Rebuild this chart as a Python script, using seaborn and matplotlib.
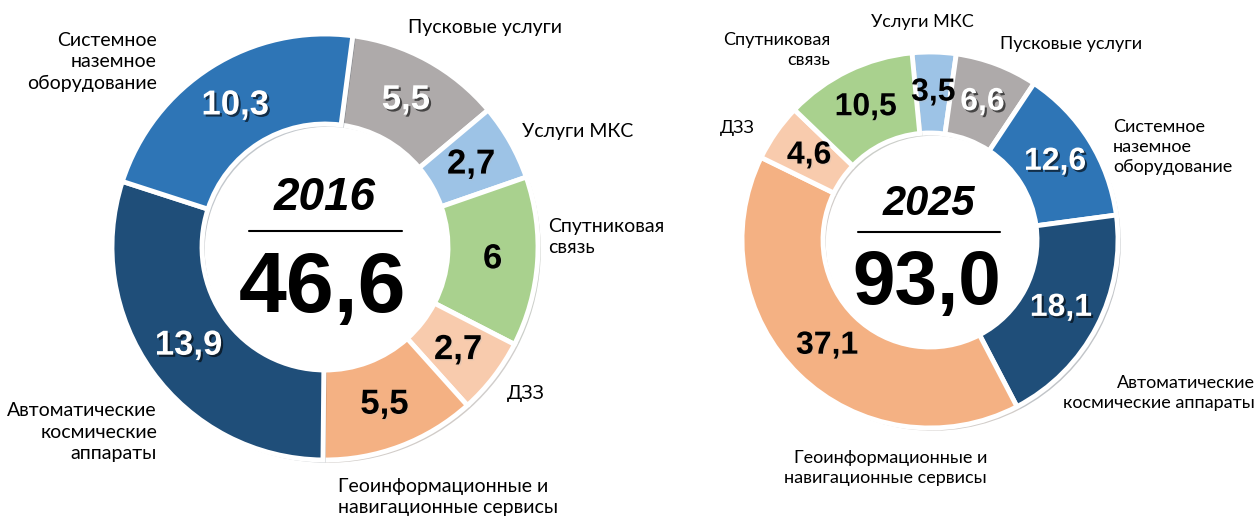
import matplotlib
matplotlib.use("Agg")
import numpy as np
import matplotlib.pyplot as plt
import matplotlib.patheffects as pe
import seaborn as sns

sns.set_theme(style="white")
plt.rcParams['font.family'] = ['Lato', 'DejaVu Sans']
plt.rcParams['text.color'] = 'black'

# categories, clockwise order as drawn in each ring
cats_2016 = ['Пусковые услуги', 'Услуги МКС', 'Спутниковая связь', 'ДЗЗ',
             'Геоинформационные и навигационные сервисы',
             'Автоматические космические аппараты',
             'Системное наземное оборудование']
vals_2016 = [5.5, 2.7, 6, 2.7, 5.5, 13.9, 10.3]
text_2016 = ['5,5', '2,7', '6', '2,7', '5,5', '13,9', '10,3']

cats_2025 = ['Услуги МКС', 'Пусковые услуги', 'Системное наземное оборудование',
             'Автоматические космические аппараты',
             'Геоинформационные и навигационные сервисы', 'ДЗЗ', 'Спутниковая связь']
vals_2025 = [3.5, 6.6, 12.6, 18.1, 37.1, 4.6, 10.5]
text_2025 = ['3,5', '6,6', '12,6', '18,1', '37,1', '4,6', '10,5']

totals = ['46,6', '93,0']
years = ['2016', '2025']

palette = {
    'Системное наземное оборудование': '#2E75B6',
    'Автоматические космические аппараты': '#1F4E79',
    'Геоинформационные и навигационные сервисы': '#F4B183',
    'ДЗЗ': '#F8CBAD',
    'Спутниковая связь': '#A9D18E',
    'Услуги МКС': '#9DC3E6',
    'Пусковые услуги': '#AEAAAA',
}
white_text = {'Системное наземное оборудование', 'Автоматические космические аппараты',
              'Пусковые услуги'}

W, H = 1258, 520
fig = plt.figure(figsize=(W / 100, H / 100), dpi=100)
ax = fig.add_axes([0, 0, 1, 1])


def Y(y):
    # image row -> axes y (y up)
    return H - y


def donut(cats, vals, texts, cx, cy, R, width, start, fs_val):
    colors = [palette[c] for c in cats]
    wedges, _ = ax.pie(vals, colors=colors, startangle=start, counterclock=False,
                       radius=R, center=(cx, Y(cy)),
                       wedgeprops=dict(width=width, edgecolor='white', linewidth=3.5))
    for w in wedges:
        w.set_path_effects([pe.SimplePatchShadow(offset=(2, -2), alpha=0.25), pe.Normal()])
    rmid = R - width / 2
    for w, c, t in zip(wedges, cats, texts):
        th = np.deg2rad((w.theta1 + w.theta2) / 2)
        x = cx + rmid * np.cos(th)
        y = Y(cy) + rmid * np.sin(th)
        if c in white_text:
            col, eff = 'white', [pe.withSimplePatchShadow(offset=(1.5, -1.5), shadow_rgbFace='black', alpha=0.6)]
        else:
            col, eff = 'black', [pe.withSimplePatchShadow(offset=(1, -1), shadow_rgbFace='#bbbbbb', alpha=0.25)]
        ax.text(x, y, t, ha='center', va='center', color=col, fontsize=fs_val,
                fontweight='bold', family='Liberation Sans', path_effects=eff)


donut(cats_2016, vals_2016, text_2016, 325, 247, 213, 90, 82.5, 25)
donut(cats_2025, vals_2025, text_2025, 930, 240, 188, 81, 95.5, 23)

# centre texts
ax.text(325, Y(198), years[0], ha='center', va='center', fontsize=33, fontweight='bold',
        fontstyle='italic', family='Liberation Sans', color='black')
ax.plot([249, 402], [Y(231), Y(231)], color='black', lw=1.5)
ax.text(323, Y(290), totals[0], ha='center', va='center', fontsize=62, fontweight='bold',
        family='Liberation Sans', color='black')

ax.text(929, Y(204), years[1], ha='center', va='center', fontsize=30, fontweight='bold',
        fontstyle='italic', family='Liberation Sans', color='black')
ax.plot([858, 1000], [Y(232), Y(232)], color='black', lw=1.5)
ax.text(927, Y(285), totals[1], ha='center', va='center', fontsize=55, fontweight='bold',
        family='Liberation Sans', color='black')

# category labels
lab = dict(fontsize=14, color='black', linespacing=1.3, va='center')
ax.text(157, Y(62), 'Системное\nназемное\nоборудование', ha='right', multialignment='right', **lab)
ax.text(408, Y(27), 'Пусковые услуги', ha='left', **lab)
ax.text(522, Y(132), 'Услуги МКС', ha='left', **lab)
ax.text(548, Y(237), 'Спутниковая\nсвязь', ha='left', multialignment='left', **lab)
ax.text(507, Y(393), 'ДЗЗ', ha='left', **lab)
ax.text(338, Y(497), 'Геоинформационные и\nнавигационные сервисы', ha='left',
        multialignment='left', **lab)
ax.text(157, Y(432), 'Автоматические\nкосмические\nаппараты', ha='right', multialignment='right', **lab)

lab2 = dict(fontsize=13, color='black', linespacing=1.3, va='center')
ax.text(922, Y(22), 'Услуги МКС', ha='center', **lab2)
ax.text(830, Y(50), 'Спутниковая\nсвязь', ha='right', multialignment='right', **lab2)
ax.text(1000, Y(44), 'Пусковые услуги', ha='left', **lab2)
ax.text(720, Y(128), 'ДЗЗ', ha='left', **lab2)
ax.text(1113, Y(147), 'Системное\nназемное\nоборудование', ha='left', multialignment='left', **lab2)
ax.text(1255, Y(393), 'Автоматические\nкосмические аппараты', ha='right', multialignment='right', **lab2)
ax.text(987, Y(468), 'Геоинформационные и\nнавигационные сервисы', ha='right',
        multialignment='right', **lab2)

ax.set_xlim(0, W)
ax.set_ylim(0, H)
ax.set_aspect('equal')
ax.axis('off')

fig.savefig('out.png', dpi=100, facecolor='white')
